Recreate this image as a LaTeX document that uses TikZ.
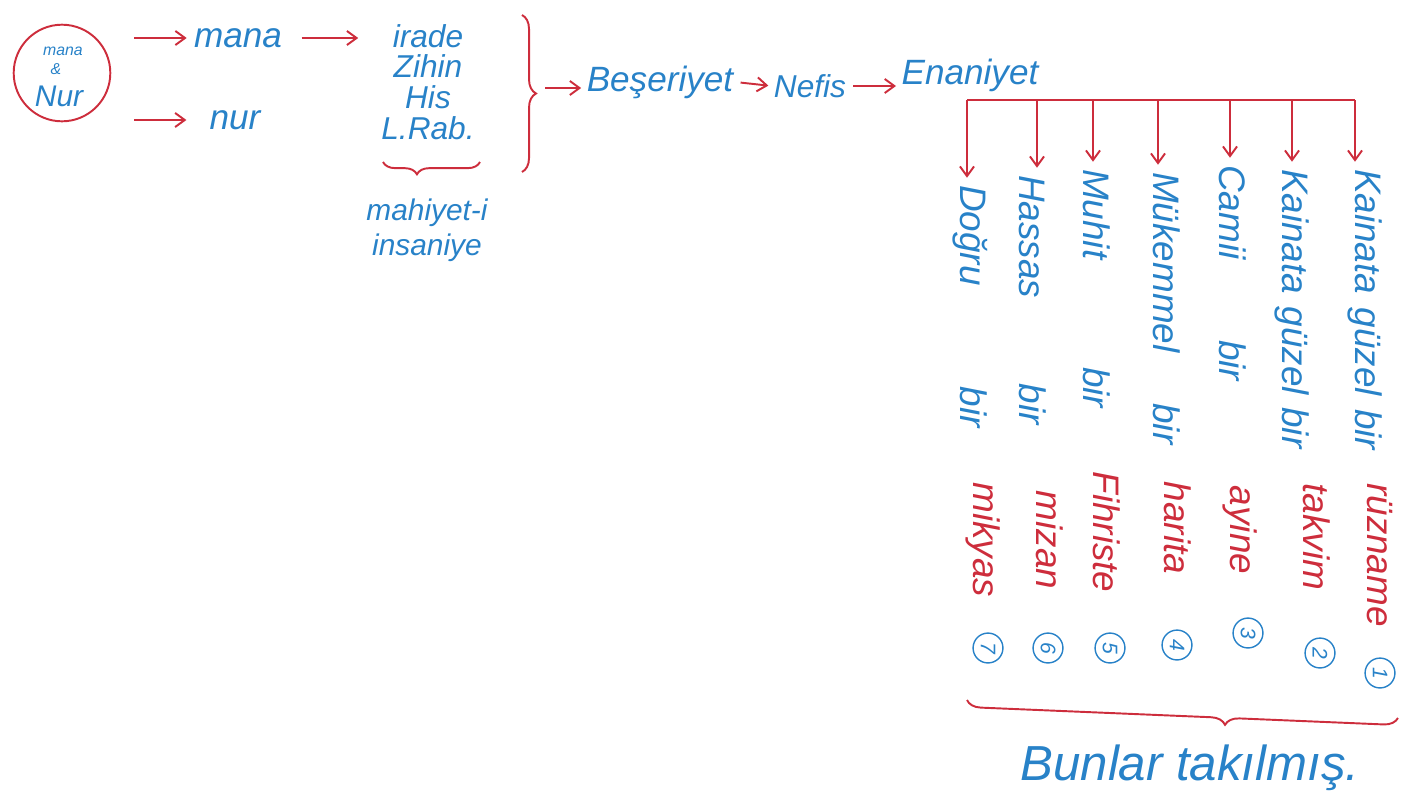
\documentclass[tikz,border=0pt]{standalone}
\usepackage{fontspec}
\setmainfont{Liberation Sans}
\usetikzlibrary{arrows.meta,decorations.pathreplacing}
\definecolor{inkred}{RGB}{205,45,60}
\definecolor{inkblue}{RGB}{40,130,200}

\begin{document}
\begin{tikzpicture}[x=0.02cm,y=-0.02cm,
  word/.style={text=inkblue, inner sep=1pt, font=\fontsize{20}{24}\selectfont\itshape},
  colword/.style={inner sep=1pt, rotate=-90, font=\fontsize{21}{24}\selectfont\itshape},
  ink/.style={draw=inkred, line width=1.1pt},
  harrow/.style={ink, -{Straight Barb[length=5.5pt,width=8pt]}},
  numcirc/.style={circle, draw=inkblue, thick, text=inkblue, minimum size=17pt,
    inner sep=0pt, rotate=-90, font=\fontsize{12}{12}\selectfont\itshape}]
  \useasboundingbox (0,0) rectangle (1403,792);

  % left part
  \node (src) [circle, ink, minimum size=55pt, inner sep=0pt] at (62,73) {};
  \node[word, font=\fontsize{9}{9}\selectfont\itshape] (srctop) at (63,51) {mana};
  \node[word, font=\fontsize{9}{9}\selectfont\itshape] (srcand) at (56,69) {\&};
  \node[word, font=\fontsize{17}{17}\selectfont\itshape] (srcbot) at (59,96) {Nur};
  \node[word] (mana) at (238,38) {mana};
  \node[word] (nur) at (235,120) {nur};
  \node[word, align=center, font=\fontsize{18}{17.5}\selectfont\itshape] (faculty) at (428,82)
    {irade\\Zihin\\His\\L.Rab.};
  \node[word, align=center, font=\fontsize{17}{20}\selectfont\itshape] (essence) at (427,230)
    {mahiyet-i\\insaniye};
  \node[word] (beser) at (660,82) {Beşeriyet};
  \node[word, font=\fontsize{18}{22}\selectfont\itshape] (nefis) at (810,86) {Nefis};
  \node[word] (ene) at (970,75) {Enaniyet};

  \path
  (src.east |- mana) edge[harrow, shorten <=13pt, shorten >=3pt] (mana.west)
  (src.east |- nur) edge[harrow, shorten <=13pt, shorten >=12pt] (nur.west)
  (mana.east) edge[harrow, shorten <=10pt, shorten >=12pt] (faculty.west |- mana);

  \coordinate (ul) at (383,162);
  \coordinate (ur) at (480,162);
  \draw[ink, decorate, decoration={brace, mirror, amplitude=7pt, aspect=0.35}] (ul) -- (ur);

  \coordinate (brtop) at (522,15);
  \coordinate (brbot) at (522,172);
  \coordinate (brtip) at (540,88);
  \draw[ink, decorate, decoration={brace, amplitude=8pt}] (brtop) -- (brbot);

  \path
  (brtip) edge[harrow, shorten <=3pt, shorten >=2pt] (beser.west |- brtip)
  (beser.east) edge[harrow, shorten <=3pt, shorten >=2pt] (nefis.west)
  (nefis.east) edge[harrow, shorten <=3pt, shorten >=2pt] (ene.west |- nefis.east);

  % the seven branches
  \foreach \i/\bx/\tx/\ty/\btext/\bw/\rx/\ry/\rtext/\nx/\ny in {
    7/967/970/183/Doğru bir/138/983/540/mikyas/988/648,
    6/1037/1033/173/Hassas bir/142/1050/540/mizan/1048/648,
    5/1093/1097/167/Muhit bir/136/1107/532/Fihriste/1110/648,
    4/1158/1167/170/Mükemmel bir/155/1178/528/harita/1177/645,
    3/1230/1233/163/Camii bir/123/1240/530/ayine/1248/633,
    2/1292/1292/167/Kainata güzel bir/159/1317/537/takvim/1320/653,
    1/1355/1365/167/Kainata güzel bir/160/1380/555/rüzname/1380/673}
  {
    \coordinate (b\i) at (\bx,100);
    \node[colword, text=inkblue, anchor=west] (t\i) at (\tx,\ty) {\makebox[\bw pt][s]{\btext}};
    \node[colword, text=inkred] (r\i) at (\rx,\ry) {\rtext};
    \node[numcirc] (n\i) at (\nx,\ny) {\i};
    \draw[harrow, shorten >=3pt] (b\i) -- (b\i |- t\i.west);
  }
  \draw[ink] (b7) -- (b1);

  \coordinate (bl) at (967,700);
  \coordinate (br) at (1398,718);
  \draw[ink, decorate, decoration={brace, mirror, amplitude=8pt, aspect=0.6}] (bl) -- (br);
  \node[word, font=\fontsize{28}{30}\selectfont\itshape] (note) at (1190,768) {Bunlar takılmış.};
\end{tikzpicture}
\end{document}
